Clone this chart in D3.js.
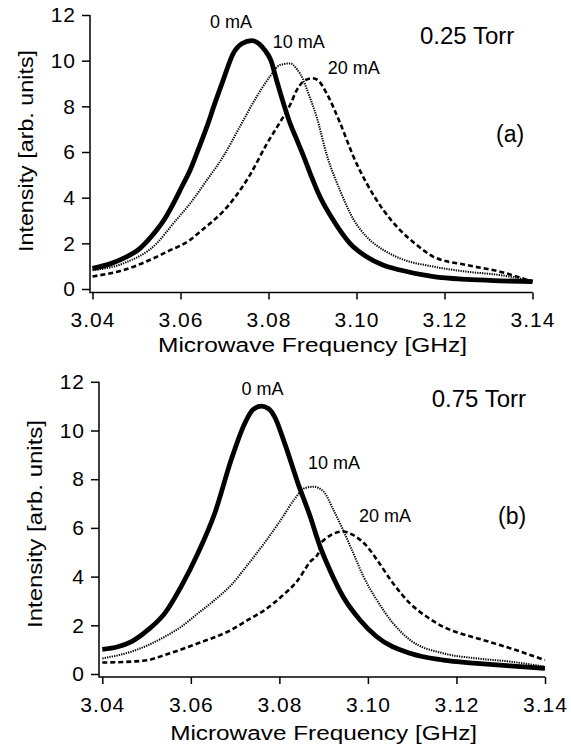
<!DOCTYPE html>
<html>
<head>
<meta charset="utf-8">
<script src="https://cdn.jsdelivr.net/npm/d3@7"></script>
<style>
    body { margin: 0; background: #fff; }
    text { font-family: "Liberation Sans", Arial, sans-serif; fill: #000; }
</style>
</head>
<body>
<div id="chart"></div>
<script>
// values (frequency in GHz, intensity in arb. units)
const xTicks = [3.04, 3.06, 3.08, 3.10, 3.12, 3.14];
const yTicks = [0, 2, 4, 6, 8, 10, 12];

// 0.25 Torr
const freqA0 = [3.040, 3.044, 3.047, 3.0508, 3.0527, 3.0546, 3.0565, 3.0584, 3.0603, 3.0622, 3.064, 3.066, 3.0678, 3.0697, 3.072, 3.074, 3.0762, 3.0778, 3.0792, 3.0805, 3.0819, 3.0834, 3.0849, 3.0864, 3.0879, 3.0894, 3.0917, 3.0947, 3.0985, 3.1023, 3.106, 3.1099, 3.1175, 3.125, 3.1326, 3.140];
const intA0 = [0.90, 1.10, 1.34, 1.78, 2.15, 2.58, 3.10, 3.75, 4.48, 5.21, 6.09, 7.11, 8.13, 9.15, 10.32, 10.75, 10.88, 10.75, 10.45, 10.03, 9.10, 8.13, 7.26, 6.55, 5.85, 5.10, 4.04, 3.02, 2.00, 1.41, 1.05, 0.83, 0.54, 0.42, 0.36, 0.32];

const freqA10 = [3.040, 3.047, 3.0546, 3.0584, 3.0622, 3.066, 3.0697, 3.0735, 3.0773, 3.0803, 3.0826, 3.0849, 3.0865, 3.0878, 3.0890, 3.091, 3.0932, 3.0963, 3.0993, 3.1023, 3.1061, 3.1099, 3.1175, 3.125, 3.1326, 3.140];
const intA10 = [0.82, 1.12, 2.00, 2.88, 3.75, 4.77, 5.80, 7.11, 8.42, 9.30, 9.81, 9.88, 9.62, 9.20, 8.60, 7.50, 5.90, 4.30, 3.05, 2.29, 1.71, 1.34, 0.98, 0.76, 0.61, 0.36];

const freqA20 = [3.040, 3.047, 3.0546, 3.0569, 3.0622, 3.0644, 3.0672, 3.0697, 3.0725, 3.0758, 3.0796, 3.0826, 3.0850, 3.0864, 3.0880, 3.0900, 3.0912, 3.0932, 3.0963, 3.0993, 3.1023, 3.1061, 3.1099, 3.1137, 3.1175, 3.125, 3.1326, 3.140];
const intA20 = [0.55, 0.83, 1.41, 1.63, 2.15, 2.50, 2.95, 3.40, 4.05, 5.00, 6.35, 7.30, 8.10, 8.70, 9.10, 9.23, 9.15, 8.57, 7.26, 5.80, 4.63, 3.46, 2.58, 1.93, 1.41, 1.05, 0.76, 0.32];

// 0.75 Torr
const freqB0 = [3.040, 3.0435, 3.0466, 3.0503, 3.0541, 3.0578, 3.0616, 3.0654, 3.0691, 3.0722, 3.0740, 3.0759, 3.0775, 3.0789, 3.0812, 3.0842, 3.0869, 3.0892, 3.0914, 3.0944, 3.0982, 3.1020, 3.1095, 3.1170, 3.1246, 3.1321, 3.140];
const intB0 = [1.01, 1.12, 1.33, 1.81, 2.49, 3.59, 4.96, 6.60, 8.79, 10.30, 10.85, 11.00, 10.90, 10.57, 9.47, 7.83, 6.50, 5.23, 4.27, 3.17, 2.22, 1.53, 0.85, 0.57, 0.44, 0.33, 0.23];

const freqB10 = [3.040, 3.0466, 3.0541, 3.0578, 3.0616, 3.0654, 3.0691, 3.0729, 3.0767, 3.0804, 3.0835, 3.0857, 3.0877, 3.0900, 3.0922, 3.0944, 3.0967, 3.0990, 3.1020, 3.1057, 3.1095, 3.1170, 3.1246, 3.1321, 3.140];
const intB10 = [0.64, 0.92, 1.53, 1.94, 2.49, 3.04, 3.65, 4.50, 5.40, 6.35, 7.20, 7.63, 7.69, 7.49, 6.74, 5.91, 4.96, 4.00, 3.04, 2.08, 1.40, 0.85, 0.64, 0.51, 0.30];

const freqB20 = [3.040, 3.0466, 3.0503, 3.0541, 3.0616, 3.0691, 3.0729, 3.0767, 3.0804, 3.0842, 3.0869, 3.0888, 3.0893, 3.0944, 3.0965, 3.0995, 3.1020, 3.1057, 3.1095, 3.1133, 3.1170, 3.1208, 3.1246, 3.1321, 3.140];
const intB20 = [0.47, 0.51, 0.57, 0.78, 1.26, 1.81, 2.22, 2.63, 3.17, 3.86, 4.60, 4.96, 5.37, 5.85, 5.72, 5.30, 4.70, 3.72, 2.90, 2.35, 1.94, 1.67, 1.47, 1.06, 0.57];

const seriesNames = ["0 mA", "10 mA", "20 mA"];

class Panel {
    constructor(svg, config) {
        this.svg = svg;
        this.config = config;
        this.g = svg.append("g");
        this.createScales();
    }

    createScales() {
        let c = this.config;
        this.xScale = d3.scaleLinear().domain([3.04, 3.14]).range([c.left, c.right]);
        this.yScale = d3.scaleLinear().domain([0, 12]).range([c.bottom, c.top]);
    }

    createAxis() {
        let c = this.config;
        let xAxis = d3.axisBottom(this.xScale)
            .tickValues(xTicks)
            .tickFormat(d3.format(".2f"))
            .tickSizeInner(7).tickSizeOuter(0).tickPadding(13);
        let yAxis = d3.axisLeft(this.yScale)
            .tickValues(yTicks)
            .tickFormat(d3.format("d"))
            .tickSizeInner(8).tickSizeOuter(0).tickPadding(6);

        let gx = this.g.append("g")
            .attr("transform", `translate(0,${c.axisY})`)
            .call(xAxis);
        let gy = this.g.append("g")
            .attr("transform", `translate(${c.axisX},0)`)
            .call(yAxis);

        [gx, gy].forEach(a => {
            a.select(".domain").remove();
            a.selectAll("line").attr("stroke", "#000").attr("stroke-width", 1.5);
            a.selectAll("text")
                .attr("font-size", 21)
                .attr("letter-spacing", "1px")
                .attr("font-family", "Liberation Sans, Arial, sans-serif")
                .attr("fill", "#000");
        });

        // axis lines meet in an L at the lower left
        this.g.append("path")
            .attr("d", `M${c.axisX},${this.yScale(12)}V${c.axisY}H${this.xScale(3.14)}`)
            .attr("fill", "none")
            .attr("stroke", "#000")
            .attr("stroke-width", 1.5);
    }

    renderLabels() {
        let c = this.config;
        this.g.append("text")
            .attr("x", (c.left + c.right) / 2)
            .attr("y", c.xTitleY)
            .attr("text-anchor", "middle")
            .attr("font-size", 20)
            .attr("textLength", c.xTitleLen)
            .attr("lengthAdjust", "spacingAndGlyphs")
            .text("Microwave Frequency [GHz]");

        this.g.append("text")
            .attr("transform", `translate(${c.yTitleX},${c.yTitleMid}) rotate(-90)`)
            .attr("text-anchor", "middle")
            .attr("font-size", 20)
            .attr("textLength", c.yTitleLen)
            .attr("lengthAdjust", "spacingAndGlyphs")
            .text("Intensity [arb. units]");

        this.g.append("text")
            .attr("x", c.pressure[0]).attr("y", c.pressure[1])
            .attr("font-size", 24)
            .text(c.pressureText);

        this.g.append("text")
            .attr("x", c.tag[0]).attr("y", c.tag[1])
            .attr("font-size", 23)
            .text(c.tagText);

        c.seriesLabels.forEach((p, i) => {
            this.g.append("text")
                .attr("x", p[0]).attr("y", p[1])
                .attr("font-size", 18)
                .text(seriesNames[i]);
        });
    }

    renderLines() {
        let line = d3.line()
            .x(d => this.xScale(d[0]))
            .y(d => this.yScale(d[1]))
            .curve(d3.curveMonotoneX);

        let styles = [
            { width: 4.8, dash: null },
            { width: 2.0, dash: "1.3,1.1" },
            { width: 2.6, dash: "5,3" }
        ];

        this.config.series.forEach((s, i) => {
            let pts = d3.zip(s[0], s[1]);
            this.g.append("path")
                .datum(pts)
                .attr("d", line)
                .attr("fill", "none")
                .attr("stroke", "#000")
                .attr("stroke-width", styles[i].width)
                .attr("stroke-linejoin", "round")
                .attr("stroke-dasharray", styles[i].dash);
        });
    }

    render() {
        this.renderLines();
        this.createAxis();
        this.renderLabels();
    }
}

function main() {
    let svg = d3.select("#chart")
        .append("svg")
        .attr("width", 571)
        .attr("height", 749);

    let top = new Panel(svg, {
        left: 92.5, right: 532.5, top: 15, bottom: 289,
        axisX: 90, axisY: 292.5,
        xTitleY: 352, xTitleLen: 309,
        yTitleX: 33, yTitleMid: 151, yTitleLen: 202,
        pressureText: "0.25 Torr", pressure: [420, 44],
        tagText: "(a)", tag: [496, 142],
        seriesLabels: [[210, 28], [272.7, 47.7], [327.7, 74]],
        series: [[freqA0, intA0], [freqA10, intA10], [freqA20, intA20]]
    });
    top.render();

    let bottom = new Panel(svg, {
        left: 102.3, right: 545, top: 381.8, bottom: 674,
        axisX: 99, axisY: 677,
        xTitleY: 740, xTitleLen: 307,
        yTitleX: 42, yTitleMid: 524, yTitleLen: 208,
        pressureText: "0.75 Torr", pressure: [431.7, 406.7],
        tagText: "(b)", tag: [498, 524],
        seriesLabels: [[241.5, 395], [308, 469], [359, 521.7]],
        series: [[freqB0, intB0], [freqB10, intB10], [freqB20, intB20]]
    });
    bottom.render();
}

main();
</script>
</body>
</html>
